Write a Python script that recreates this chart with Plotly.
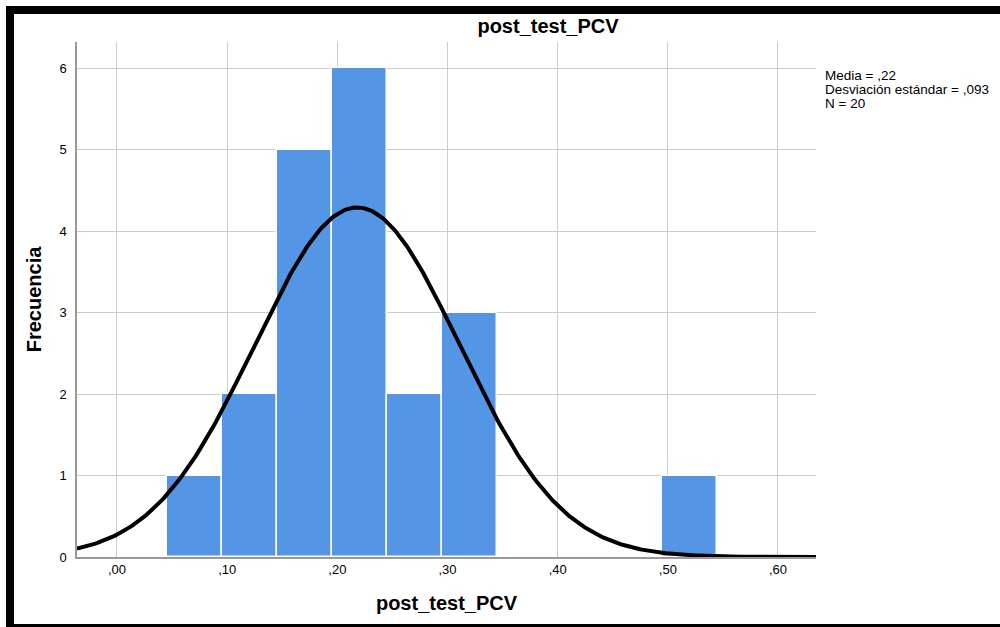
import numpy as np
import plotly.graph_objects as go

# Data
bin_starts = [0.045, 0.095, 0.145, 0.195, 0.245, 0.295, 0.495]
counts = [1, 2, 5, 6, 2, 3, 1]
bin_width = 0.05
mean_val = 0.218
sd_val = 0.093
n_val = 20
x_ticks = [0.0, 0.1, 0.2, 0.3, 0.4, 0.5, 0.6]
x_tick_labels = [",00", ",10", ",20", ",30", ",40", ",50", ",60"]
y_ticks = [0, 1, 2, 3, 4, 5, 6]
stats_lines = ["Media = ,22", "Desviación estándar = ,093", "N = 20"]

x_range = [-0.0363, 0.6345]
y_range = [0, 6.32]

fig = go.Figure()
fig.add_trace(go.Bar(
    x=bin_starts, y=counts, width=[bin_width] * len(counts), offset=0,
    marker=dict(color="#5595E5", line=dict(color="white", width=1.5)),
    hoverinfo="skip", showlegend=False,
))

xs = np.linspace(x_range[0], x_range[1], 400)
ys = n_val * bin_width * np.exp(-0.5 * ((xs - mean_val) / sd_val) ** 2) / (sd_val * np.sqrt(2 * np.pi))
fig.add_trace(go.Scatter(x=xs, y=ys, mode="lines", line=dict(color="black", width=4),
                         hoverinfo="skip", showlegend=False))

font_family = "Liberation Sans, Arial, sans-serif"
L, R, T, B = 77, 184, 42, 70
W, H = 1000, 627
pw, ph = W - L - R, H - T - B

def px(xp):
    return (xp - L) / pw

def py(yp):
    return (H - B - yp) / ph

shapes = [
    dict(type="rect", xref="paper", yref="paper", x0=px(6), x1=px(1005), y0=py(14), y1=py(6),
         fillcolor="black", line=dict(width=0), layer="above"),
    dict(type="rect", xref="paper", yref="paper", x0=px(6), x1=px(14), y0=py(630), y1=py(6),
         fillcolor="black", line=dict(width=0), layer="above"),
    dict(type="rect", xref="paper", yref="paper", x0=px(6), x1=px(1005), y0=py(630), y1=py(624),
         fillcolor="black", line=dict(width=0), layer="above"),
]

annotations = []
for i, t in enumerate(stats_lines):
    annotations.append(dict(
        text=t, xref="paper", yref="paper", x=px(823), y=py(75 + 14 * i),
        xanchor="left", yanchor="middle", showarrow=False,
        font=dict(family=font_family, size=13.5, color="black"),
    ))

fig.update_layout(
    width=W, height=H,
    margin=dict(l=L, r=R, t=T, b=B),
    paper_bgcolor="white", plot_bgcolor="white",
    bargap=0,
    title=dict(text="<b>post_test_PCV</b>", x=548 / W, xanchor="center", y=1 - 26 / H, yanchor="middle",
               font=dict(family=font_family, size=20, color="black")),
    xaxis=dict(range=x_range, tickvals=x_ticks, ticktext=x_tick_labels, showgrid=True,
               gridcolor="#cccccc", gridwidth=1, zeroline=False, showline=True, linecolor="#999999",
               linewidth=1.5, ticks="", tickfont=dict(family=font_family, size=13, color="black"),
               title=dict(text="<b>post_test_PCV</b>", standoff=20,
                          font=dict(family=font_family, size=20, color="black"))),
    yaxis=dict(range=y_range, tickvals=y_ticks, showgrid=True, gridcolor="#cccccc", gridwidth=1,
               zeroline=False, showline=True, linecolor="#999999", linewidth=1.5, ticks="",
               ticklabelstandoff=6,
               tickfont=dict(family=font_family, size=13, color="black"),
               title=dict(text="<b>Frecuencia</b>", standoff=12,
                          font=dict(family=font_family, size=20, color="black"))),
    shapes=shapes,
    annotations=annotations,
)

fig.write_html("out.html")
